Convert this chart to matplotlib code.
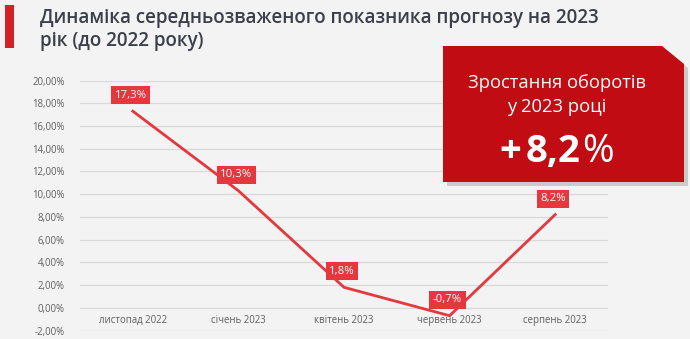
import matplotlib
matplotlib.use("Agg")
import matplotlib.pyplot as plt
from matplotlib.patches import Polygon, Rectangle

plt.rcParams["font.family"] = ["Open Sans", "DejaVu Sans"]

categories = ["листопад 2022", "січень 2023", "квітень 2023", "червень 2023", "серпень 2023"]
values = [17.3, 10.3, 1.8, -0.7, 8.2]
value_labels = ["17,3%", "10,3%", "1,8%", "-0,7%", "8,2%"]
y_ticks = [-2, 0, 2, 4, 6, 8, 10, 12, 14, 16, 18, 20]

title_lines = ["Динаміка середньозваженого показника прогнозу на 2023", "рік (до 2022 року)"]
box_lines = ["Зростання оборотів", "у 2023 році"]
box_parts = [("+", "bold"), ("8,2", "bold"), ("%", "normal")]

BG = "#f3f3f3"
LINE = "#e5383e"
W, H = 690, 339

fig = plt.figure(figsize=(6.9, 3.39), dpi=100, facecolor=BG)


def px(x, y):
    return x / W, 1 - y / H


ax = fig.add_axes([80 / W, 1 - 330.5 / H, 528 / W, 250 / H])
ax.set_facecolor(BG)
x = list(range(len(categories)))
ax.set_xlim(-0.5, len(categories) - 0.5)
ax.set_ylim(-2, 20)
ax.set_yticks(y_ticks)
ax.set_yticklabels([f"{t:.2f}%".replace(".", ",") for t in y_ticks],
                   fontsize=6.9, color="#5f5f5f")
ax.tick_params(axis="y", length=0, pad=11)
ax.set_xticks([])
for s in ax.spines.values():
    s.set_visible(False)
ax.grid(axis="y", color="#d9d9d9", linewidth=0.9)
ax.set_axisbelow(True)

ax.plot(x, values, color=LINE, linewidth=2, zorder=3)
for xi, v, lab in zip(x, values, value_labels):
    ax.annotate(lab, (xi, v), xytext=(-1.5, 11.5), textcoords="offset points",
                ha="center", va="center", fontsize=8.2, color="white", zorder=4,
                bbox=dict(boxstyle="square,pad=0.3", fc=LINE, ec="none"))
for xi, c in zip(x, categories):
    ax.annotate(c, (xi, 0), xytext=(0, -5), textcoords="offset points",
                ha="center", va="top", fontsize=6.9, color="#5f5f5f")

# title with red accent bar
fig.patches.append(Rectangle(px(5, 48), 9 / W, 43 / H, transform=fig.transFigure,
                             fc="#d42027", ec="none"))
for line, base in zip(title_lines, (23, 46)):
    fig.text(*px(40, base), line, ha="left", va="baseline", fontsize=13.5,
             weight=600, color="#3b3f4a")

# highlight box with cut corner and shadow
corner = [(443, 46), (662, 46), (684, 64), (684, 182), (443, 182)]
shadow = [px(a + 4, b + 4) for a, b in corner]
fig.patches.append(Polygon(shadow, closed=True, transform=fig.transFigure,
                           fc="#b0b0b0", ec="none", alpha=0.6, zorder=5))
fig.patches.append(Polygon([px(a, b) for a, b in corner], closed=True,
                           transform=fig.transFigure, fc="#c00c12", ec="none", zorder=6))
for line, base in zip(box_lines, (88, 112)):
    fig.text(*px(557, base), line, ha="center", va="baseline", fontsize=13.2,
             color="white", zorder=7)

# big value, laid out piece by piece with a gap after the plus sign
renderer = fig.canvas.get_renderer()
cursor = 499
gaps = [5, 1, 0]
for (part, weight), gap in zip(box_parts, gaps):
    t = fig.text(*px(cursor, 162), part, ha="left", va="baseline", fontsize=27.5,
                 weight=weight, color="white", zorder=7)
    cursor += t.get_window_extent(renderer).width + gap

fig.savefig("out.png", dpi=100, facecolor=BG)
